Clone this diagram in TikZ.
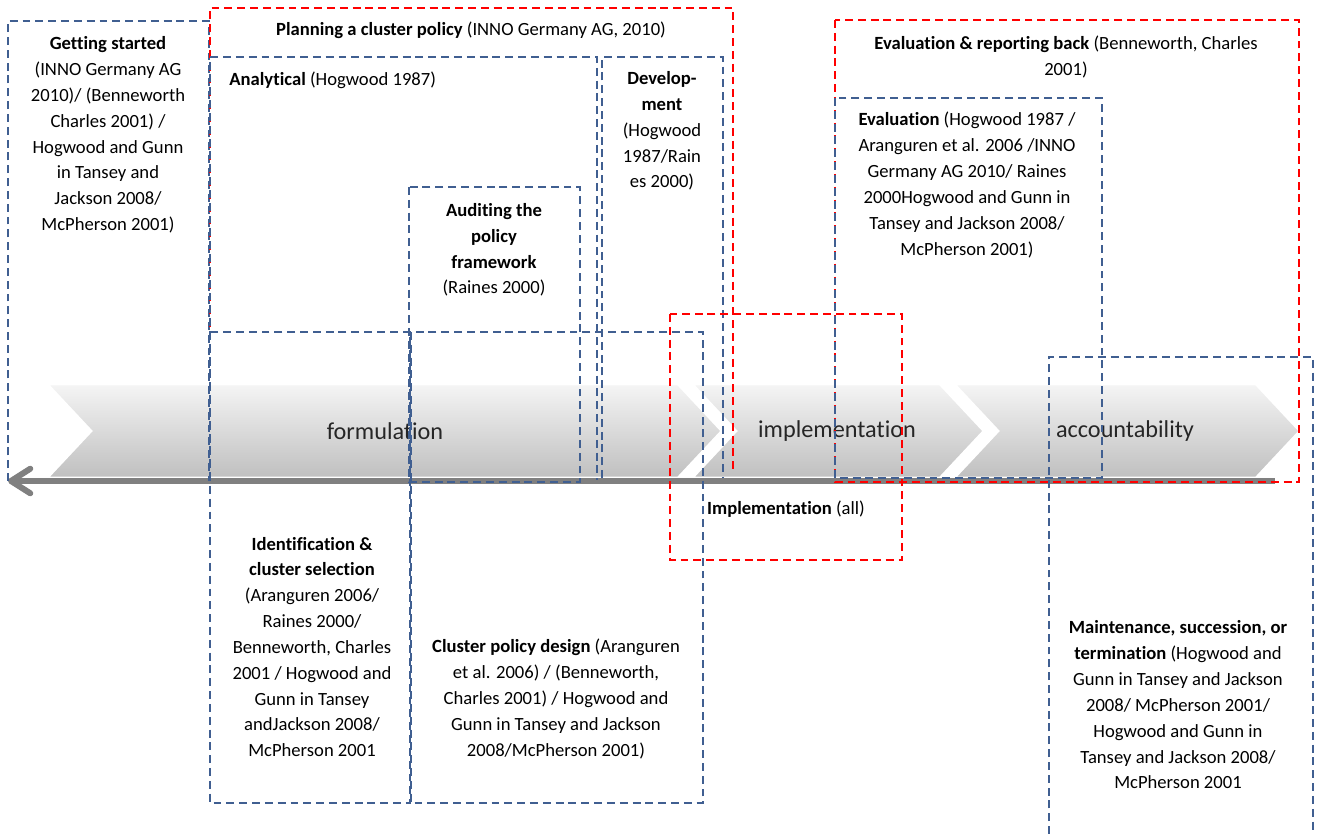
\documentclass[tikz,border=0pt]{standalone}
\usepackage{fontspec}
\setmainfont{Carlito}[Ligatures=NoCommon]
\usepackage{tikz}
\usetikzlibrary{arrows.meta,positioning}
\definecolor{dashblue}{RGB}{64,95,145}
\definecolor{dashred}{RGB}{255,0,0}
\definecolor{arrowgrey}{RGB}{128,128,128}

\begin{document}
\begin{tikzpicture}[
        x=0.02cm, y=-0.02cm,
        bluebox/.style={draw=dashblue, line width=1.1pt, dash pattern=on 4.5pt off 2.8pt},
        redbox/.style={draw=dashred, line width=1.2pt, dash pattern=on 4.5pt off 2.8pt},
        txt/.style={align=center, inner sep=0pt, font=\fontsize{10.6}{14.7}\selectfont},
        phase/.style={top color=gray!8, bottom color=gray!50, draw=white, line width=1.5pt},
        phasetxt/.style={inner sep=0pt, text=black!85, font=\fontsize{13.8}{16}\selectfont},
        timeline/.style={line width=3.4pt, draw=arrowgrey, -{Straight Barb[round, length=11pt, width=14pt]}}
    ]
        \useasboundingbox (0,0) rectangle (1319,834);

        % phases
        \path[phase] (47,384) -- (678,384) -- (722,431) -- (678,478) -- (47,478) -- (91,431) -- cycle;
        \path[phase] (692,384) -- (940,384) -- (984,431) -- (940,478) -- (692,478) -- (736,431) -- cycle;
        \path[phase] (954,384) -- (1256,384) -- (1300,431) -- (1256,478) -- (954,478) -- (998,431) -- cycle;
        \node[phasetxt] (formulation) at (385,431) {formulation};
        \node[phasetxt] (implementation) at (837,431) {implementation};
        \node[phasetxt] (accountability) at (1125,431) {accountability};

        \coordinate (tlstart) at (1275,481);
        \coordinate (tlend) at (8,481);
        \draw[timeline] (tlstart) -- (tlend);

        % stage boxes
        \draw[bluebox] (8,481) -- (8,21) -- (209,21) -- (209,481);
        \draw[redbox] (210,481) -- (210,8) -- (733,8) -- (733,474);
        \draw[bluebox] (210,480) -- (210,57) -- (597,57) -- (597,480);
        \draw[bluebox] (602,478) -- (602,57) -- (723,57) -- (723,478);
        \draw[bluebox] (409,187) rectangle (580,482);
        \draw[bluebox] (210,332) rectangle (410,803);
        \draw[bluebox] (411,332) rectangle (703,803);
        \draw[redbox] (670,314) rectangle (902,560);
        \draw[redbox] (835,20) rectangle (1299,482);
        \draw[bluebox] (835,98) rectangle (1102,478);
        \draw[bluebox] (1049,834) -- (1049,357) -- (1313,357) -- (1313,834);

        \node[txt] (getting) at (108,135) {\textbf{Getting started}\\(INNO Germany AG\\2010)/ (Benneworth\\Charles 2001) /\\Hogwood and Gunn\\in Tansey and\\Jackson 2008/\\McPherson 2001)};
        \node[txt] (planning) at (471,30) {\textbf{Planning a cluster policy} (INNO Germany AG, 2010)};
        \node[txt, anchor=west] (analytical) at (229,80) {\textbf{Analytical} (Hogwood 1987)};
        \node[txt] (development) at (662,131) {\textbf{Develop-}\\\textbf{ment}\\(Hogwood\\1987/Rain\\es 2000)};
        \node[txt] (auditing) at (494,250) {\textbf{Auditing the}\\\textbf{policy}\\\textbf{framework}\\(Raines 2000)};
        \node[txt] (evalreport) at (1066,57) {\textbf{Evaluation \& reporting back} (Benneworth, Charles\\2001)};
        \node[txt] (evaluation) at (967,185) {\textbf{Evaluation} (Hogwood 1987 /\\Aranguren et al. 2006 /INNO\\Germany AG 2010/ Raines\\2000Hogwood and Gunn in\\Tansey and Jackson 2008/\\McPherson 2001)};
        \node[txt] (impl) at (786,509) {\textbf{Implementation} (all)};
        \node[txt] (identification) at (312,647) {\textbf{Identification \&}\\\textbf{cluster selection}\\(Aranguren 2006/\\Raines 2000/\\Benneworth, Charles\\2001 / Hogwood and\\Gunn in Tansey\\andJackson 2008/\\McPherson 2001};
        \node[txt] (design) at (556,699) {\textbf{Cluster policy design} (Aranguren\\et al. 2006) / (Benneworth,\\Charles 2001) / Hogwood and\\Gunn in Tansey and Jackson\\2008/McPherson 2001)};
        \node[txt] (maintenance) at (1178,705) {\textbf{Maintenance, succession, or}\\\textbf{termination} (Hogwood and\\Gunn in Tansey and Jackson\\2008/ McPherson 2001/\\Hogwood and Gunn in\\Tansey and Jackson 2008/\\McPherson 2001};

    \end{tikzpicture}
\end{document}
